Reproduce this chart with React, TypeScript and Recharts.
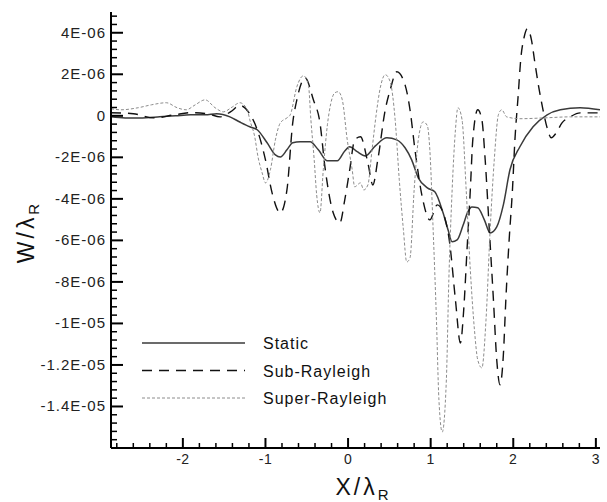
import { Legend, Line, LineChart, XAxis, YAxis } from "recharts";

// w / lambda_R values are kept in units of 1E-06
const staticCurve = [
  [-2.87, -0.05], [-2.7, -0.1], [-2.52, -0.1], [-2.28, -0.05], [-2.09, 0], [-1.91, 0.05],
  [-1.73, 0.05], [-1.59, 0.1], [-1.43, -0.05], [-1.31, -0.3], [-1.19, -0.53], [-1.1, -0.67],
  [-0.98, -1.3], [-0.88, -1.88], [-0.82, -1.98], [-0.74, -1.64], [-0.67, -1.3], [-0.58, -1.25],
  [-0.46, -1.25], [-0.36, -1.64], [-0.25, -2.17], [-0.13, -2.17], [-0.04, -1.69], [0.02, -1.49],
  [0.11, -1.73], [0.21, -1.93], [0.33, -1.45], [0.47, -1.06], [0.59, -1.16], [0.69, -1.54],
  [0.77, -2.12], [0.85, -2.99], [0.96, -3.47], [1.05, -3.66], [1.15, -4.67], [1.21, -5.49],
  [1.26, -6.07], [1.32, -5.98], [1.39, -5.3], [1.45, -4.63], [1.5, -4.39], [1.57, -4.43],
  [1.65, -5.01], [1.72, -5.64], [1.8, -5.35], [1.88, -4.29], [1.96, -2.6], [2.08, -1.49],
  [2.24, -0.53], [2.41, 0.05], [2.57, 0.29], [2.81, 0.39], [3.05, 0.29],
];

const subRayleigh = [
  [-2.87, 0.15], [-2.6, 0.1], [-2.35, -0.1], [-2.1, 0.05], [-1.9, 0.15], [-1.7, 0.1],
  [-1.55, -0.05], [-1.42, 0.2], [-1.31, 0.5], [-1.2, 0.15], [-1.1, -0.67], [-1.0, -2.12],
  [-0.92, -3.71], [-0.82, -4.67], [-0.74, -3.57], [-0.67, -0.34], [-0.62, 0.77], [-0.52, 1.83],
  [-0.42, 0.77], [-0.34, -0.34], [-0.28, -2.46], [-0.18, -4.67], [-0.1, -5.16], [-0.04, -4.05],
  [0.02, -2.6], [0.08, -1.16], [0.15, -1.01], [0.24, -2.27], [0.3, -3.33], [0.36, -2.12],
  [0.45, 0.29], [0.51, 1.25], [0.59, 2.12], [0.69, 1.49], [0.75, 0.29], [0.81, -1.64],
  [0.9, -3.95], [0.99, -5.01], [1.08, -4.29], [1.16, -4.77], [1.23, -6.12], [1.3, -8.87],
  [1.36, -10.94], [1.4, -9.35], [1.44, -6.46], [1.48, -3.57], [1.51, -1.16], [1.57, 0.29],
  [1.62, -0.19], [1.66, -2.12], [1.71, -5.49], [1.76, -8.87], [1.8, -11.76], [1.84, -12.96],
  [1.88, -11.52], [1.91, -8.87], [1.95, -5.98], [1.99, -3.57], [2.02, -1.16], [2.06, 1.01],
  [2.09, 2.7], [2.13, 3.76], [2.17, 4.19], [2.22, 3.66], [2.26, 2.6], [2.31, 1.35],
  [2.36, 0.29], [2.41, -0.58], [2.46, -1.06], [2.52, -0.82], [2.59, -0.34], [2.69, -0.05],
  [2.81, 0.14], [3.05, 0.14],
];

const superRayleigh = [
  [-2.87, 0.34], [-2.75, 0.29], [-2.54, 0.39], [-2.38, 0.53], [-2.2, 0.63], [-2.07, 0.39],
  [-1.96, 0.29], [-1.85, 0.53], [-1.73, 0.77], [-1.61, 0.39], [-1.51, 0.19], [-1.4, 0.43],
  [-1.31, 0.63], [-1.22, 0.29], [-1.19, -0.19], [-1.13, -1.01], [-1.09, -1.98], [-1.04, -2.75],
  [-1.0, -3.23], [-0.94, -2.6], [-0.88, -1.16], [-0.82, -0.34], [-0.74, -0.1], [-0.7, 0.05],
  [-0.62, 1.4], [-0.54, 1.93], [-0.48, 1.49], [-0.45, -0.19], [-0.41, -2.12], [-0.38, -3.81],
  [-0.34, -4.67], [-0.3, -2.6], [-0.25, -0.43], [-0.21, 0.58], [-0.16, 1.11], [-0.12, 1.16],
  [-0.07, 0.77], [-0.01, -1.16], [0.05, -2.6], [0.08, -3.42], [0.15, -3.23], [0.19, -3.57],
  [0.24, -3.33], [0.29, -1.64], [0.34, 0.05], [0.39, 1.35], [0.45, 1.98], [0.51, 1.64],
  [0.57, -0.19], [0.62, -3.08], [0.67, -5.49], [0.71, -7.04], [0.75, -6.84], [0.8, -3.57],
  [0.85, -1.16], [0.91, -0.29], [0.96, -0.48], [0.99, -1.64], [1.03, -5.49], [1.07, -9.83],
  [1.1, -13.69], [1.14, -15.23], [1.19, -12.72], [1.22, -7.9], [1.26, -3.57], [1.3, -0.67],
  [1.33, 0.39], [1.38, -0.19], [1.43, -3.57], [1.48, -7.42], [1.53, -10.31], [1.57, -11.76],
  [1.62, -12.14], [1.67, -9.83], [1.72, -5.49], [1.77, -2.12], [1.82, 0.05], [1.86, 0.29],
  [1.92, -0.05], [2.08, -0.14], [2.38, -0.1], [2.69, -0.05], [3.05, -0.05],
];

const xMajor = [-2, -1, 0, 1, 2, 3];
const xTickLabels = ["-2", "-1", "0", "1", "2", "3"];
const yMajor = [4, 2, 0, -2, -4, -6, -8, -10, -12, -14];
const yTickLabels = [
  "4E-06", "2E-06", "0", "-2E-06", "-4E-06", "-6E-06", "-8E-06", "-1E-05", "-1.2E-05", "-1.4E-05",
];

const xTicks = Array.from({ length: 30 }, (_, i) => Math.round((-2.8 + 0.2 * i) * 10) / 10);
const yTicks = Array.from({ length: 53 }, (_, i) => Math.round((-16 + 0.4 * i) * 10) / 10);

const series = [
  { name: "Static", data: staticCurve, stroke: "#3a3a3a", width: 1.5, dash: undefined },
  { name: "Sub-Rayleigh", data: subRayleigh, stroke: "#111", width: 1.4, dash: "10 7" },
  { name: "Super-Rayleigh", data: superRayleigh, stroke: "#8c8c8c", width: 1, dash: "3 2" },
];

const font = "'Liberation Sans', Arial, sans-serif";

function XTick({ x, y, payload }: any) {
  const i = xMajor.indexOf(payload.value);
  return (
    <g>
      <line x1={x} x2={x} y1={y} y2={y - (i >= 0 ? 10 : 5)} stroke="#000" strokeWidth={i >= 0 ? 2 : 1.5} />
      {i >= 0 && (
        <text x={x} y={y + 16} textAnchor="middle" fontFamily={font} fontSize={14} letterSpacing={0.5} fill="#222">
          {xTickLabels[i]}
        </text>
      )}
    </g>
  );
}

function YTick({ x, y, payload }: any) {
  const i = yMajor.indexOf(payload.value);
  return (
    <g>
      <line x1={x} x2={x + (i >= 0 ? 12 : 6)} y1={y} y2={y} stroke="#000" strokeWidth={i >= 0 ? 2 : 1.5} />
      {i >= 0 && (
        <text x={x - 5} y={y + 5} textAnchor="end" fontFamily={font} fontSize={15} letterSpacing={1} fill="#222">
          {yTickLabels[i]}
        </text>
      )}
    </g>
  );
}

function XTitle({ viewBox }: any) {
  return (
    <text x={viewBox.x + viewBox.width / 2 + 8} y={viewBox.y + 47} textAnchor="middle" fontFamily={font} fontSize={23} letterSpacing={3} fill="#111">
      X/λ<tspan dy={5} fontSize={15}>R</tspan>
    </text>
  );
}

function YTitle({ viewBox }: any) {
  return (
    <text transform={`translate(34, ${viewBox.y + 220}) rotate(-90)`} textAnchor="middle" fontFamily={font} fontSize={23} letterSpacing={3} fill="#111">
      W/λ<tspan dy={5} fontSize={15}>R</tspan>
    </text>
  );
}

function LegendBox() {
  return (
    <svg width={280} height={90}>
      {series.map((s, i) => (
        <g key={s.name}>
          <line x1={12} x2={115} y1={15 + i * 27.5} y2={15 + i * 27.5} stroke={s.stroke} strokeWidth={s.width} strokeDasharray={s.dash} />
          <text x={133} y={21 + i * 27.5} fontFamily={font} fontSize={16} letterSpacing={1} fill="#111">
            {s.name}
          </text>
        </g>
      ))}
    </svg>
  );
}

export default function App() {
  return (
    <div style={{ position: "absolute", left: 0, top: 0, background: "#fff" }}>
      <LineChart width={607} height={502} margin={{ top: 12, right: 7, bottom: 0, left: 0 }}>
        <XAxis
          type="number"
          dataKey="x"
          domain={[-2.87, 3.05]}
          allowDataOverflow
          ticks={xTicks}
          interval={0}
          tick={<XTick />}
          tickLine={false}
          tickSize={0}
          tickMargin={0}
          axisLine={{ stroke: "#000", strokeWidth: 2 }}
          height={54}
          label={<XTitle />}
        />
        <YAxis
          type="number"
          domain={[-16, 5]}
          allowDataOverflow
          ticks={yTicks}
          interval={0}
          tick={<YTick />}
          tickLine={false}
          tickSize={0}
          tickMargin={0}
          axisLine={{ stroke: "#000", strokeWidth: 2 }}
          width={111}
          label={<YTitle />}
        />
        <Legend
          layout="vertical"
          align="center"
          verticalAlign="middle"
          content={<LegendBox />}
          wrapperStyle={{ left: 130, top: 328, width: 280, height: 90 }}
        />
        {series.map((s) => (
          <Line
            key={s.name}
            name={s.name}
            data={s.data.map(([x, w]) => ({ x, w }))}
            dataKey="w"
            type="monotone"
            stroke={s.stroke}
            strokeWidth={s.width}
            strokeDasharray={s.dash}
            dot={false}
            isAnimationActive={false}
          />
        ))}
      </LineChart>
    </div>
  );
}
